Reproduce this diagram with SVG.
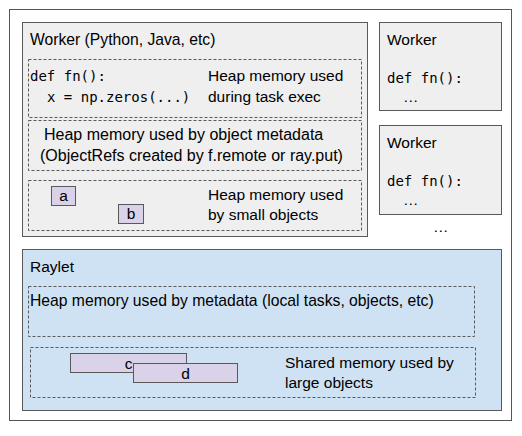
<svg xmlns="http://www.w3.org/2000/svg" width="522" height="436" viewBox="0 0 522 436">
<style>
.t{font-family:"Liberation Sans",Arial,sans-serif;font-size:15.5px;fill:#000}
.m{font-family:"DejaVu Sans Mono",monospace;font-size:14px;fill:#000}
.box{fill:#efefef;stroke:#595959;stroke-width:1}
.dash{fill:none;stroke:#595959;stroke-width:1;stroke-dasharray:3,2}
.obj{fill:#d9d2e9;stroke:#595959;stroke-width:1}
</style>
<rect x="9.5" y="9.5" width="502" height="411" fill="#fff" stroke="#555"/>
<g id="worker-main">
<rect class="box" x="22.5" y="22.5" width="345" height="214"/>
<text class="t" x="30" y="45" style="font-size:15.7px">Worker (Python, Java, etc)</text>
</g>
<g id="task-heap">
<rect class="dash" x="28.5" y="59.5" width="333" height="58"/>
<text class="m" x="30" y="81">def fn():</text>
<text class="m" x="47" y="102">x = np.zeros(...)</text>
<text class="t" x="208" y="81">Heap memory used</text>
<text class="t" x="208" y="102">during task exec</text>
</g>
<g id="metadata-heap">
<rect class="dash" x="28.5" y="120.5" width="333" height="50"/>
<text class="t" x="44" y="140" style="font-size:16px">Heap memory used by object metadata</text>
<text class="t" x="40" y="161" style="font-size:16px">(ObjectRefs created by f.remote or ray.put)</text>
</g>
<g id="small-objects">
<rect class="dash" x="28.5" y="180.5" width="333" height="50"/>
<text class="t" x="208" y="200">Heap memory used</text>
<text class="t" x="208" y="220">by small objects</text>
</g>
<g id="obj-a">
<rect class="obj" x="51.5" y="186.5" width="24" height="19"/>
<text class="t" x="63.5" y="201" text-anchor="middle">a</text>
</g>
<g id="obj-b">
<rect class="obj" x="118.5" y="204.5" width="25" height="19"/>
<text class="t" x="131" y="219" text-anchor="middle">b</text>
</g>
<g id="worker-2">
<rect class="box" x="379.5" y="22.5" width="122" height="88"/>
<text class="t" x="387" y="45">Worker</text>
<text class="m" x="387" y="83">def fn():</text>
<text class="t" x="403" y="102">…</text>
</g>
<g id="worker-3">
<rect class="box" x="379.5" y="125.5" width="122" height="89"/>
<text class="t" x="387" y="148">Worker</text>
<text class="m" x="387" y="186">def fn():</text>
<text class="t" x="403" y="205">…</text>
</g>
<text class="t" x="433" y="232">…</text>
<g id="raylet">
<rect x="22.5" y="249.5" width="479" height="161" fill="#cfe2f3" stroke="#595959"/>
<text class="t" x="30" y="272">Raylet</text>
</g>
<g id="raylet-heap">
<rect class="dash" x="28.5" y="286.5" width="446" height="50"/>
<text class="t" x="30" y="306" style="font-size:15.7px">Heap memory used by metadata (local tasks, objects, etc)</text>
</g>
<g id="shared-mem">
<rect class="dash" x="30.5" y="347.5" width="445" height="50"/>
<text class="t" x="285" y="368">Shared memory used by</text>
<text class="t" x="285" y="388">large objects</text>
</g>
<g id="obj-c">
<rect class="obj" x="70.5" y="353.5" width="116" height="19"/>
<text class="t" x="128.5" y="369" text-anchor="middle">c</text>
</g>
<g id="obj-d">
<rect class="obj" x="133.5" y="363.5" width="104" height="19"/>
<text class="t" x="185.5" y="379" text-anchor="middle">d</text>
</g>
<g id="connectors"></g>
</svg>
